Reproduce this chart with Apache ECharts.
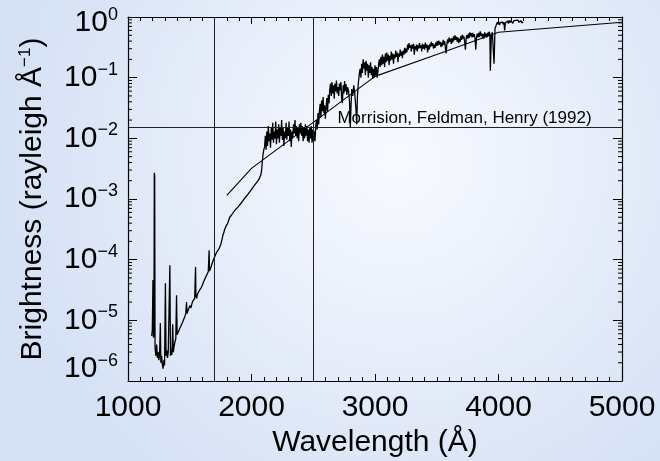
<!DOCTYPE html>
<html>
<head>
<meta charset="utf-8">
<script src="https://cdn.jsdelivr.net/npm/echarts@6/dist/echarts.min.js"></script>
<style>
  html, body { margin: 0; padding: 0; }
  #chart { width: 660px; height: 461px; }
</style>
</head>
<body>
<div id="chart"></div>
<script>
// observed spectrum (wavelength in Angstrom, brightness in rayleigh/A)
const specWave = [
  1192, 1197, 1202, 1206, 1210, 1213, 1216, 1219, 1226, 1232, 1238, 1244, 1250, 1256, 1262, 1266,
  1272, 1278, 1284, 1290, 1296, 1303, 1308, 1314, 1320, 1326, 1333, 1339, 1344, 1350, 1356, 1362,
  1367, 1373, 1380, 1387, 1393, 1398, 1404, 1412, 1420, 1428, 1436, 1444, 1452, 1460, 1468, 1474,
  1478, 1486, 1494, 1502, 1510, 1518, 1526, 1534, 1540, 1547, 1550, 1556, 1562, 1570, 1578, 1586,
  1594, 1602, 1610, 1618, 1626, 1634, 1642, 1650, 1657, 1660, 1666, 1672, 1680, 1688, 1696, 1704,
  1712, 1720, 1728, 1736, 1744, 1752, 1760, 1768, 1776, 1784, 1792, 1800, 1808, 1816, 1824, 1832,
  1840, 1848, 1856, 1862, 1870, 1878, 1886, 1894, 1900, 1908, 1916, 1924, 1932, 1940, 1948, 1956,
  1964, 1972, 1980, 1988, 1996, 2004, 2012, 2020, 2028, 2036, 2044, 2052, 2060, 2068, 2076, 2082,
  2088, 2094, 2100, 2106, 2112, 2118, 2124, 2130, 2136, 2142, 2148, 2154, 2160, 2166, 2172, 2178,
  2184, 2190, 2196, 2202, 2208, 2214, 2220, 2226, 2232, 2238, 2244, 2250, 2256, 2262, 2268, 2274,
  2280, 2286, 2292, 2298, 2304, 2310, 2316, 2322, 2328, 2334, 2340, 2346, 2352, 2358, 2364, 2370,
  2376, 2382, 2388, 2394, 2400, 2406, 2412, 2418, 2424, 2430, 2436, 2442, 2448, 2454, 2460, 2466,
  2472, 2478, 2484, 2490, 2496, 2502, 2508, 2514, 2520, 2526, 2532, 2538, 2544, 2550, 2556, 2562,
  2568, 2574, 2580, 2586, 2592, 2598, 2604, 2610, 2616, 2622, 2628, 2634, 2640, 2646, 2652, 2658,
  2664, 2670, 2676, 2682, 2688, 2694, 2700, 2706, 2712, 2718, 2724, 2730, 2736, 2742, 2748, 2754,
  2760, 2766, 2772, 2778, 2786, 2794, 2800, 2806, 2812, 2820, 2828, 2836, 2846, 2852, 2858, 2866,
  2874, 2880, 2886, 2892, 2898, 2904, 2910, 2916, 2922, 2928, 2934, 2940, 2946, 2952, 2958, 2964,
  2970, 2976, 2982, 2988, 2994, 3000, 3006, 3012, 3018, 3024, 3030, 3036, 3042, 3048, 3054, 3060,
  3066, 3072, 3078, 3084, 3090, 3096, 3102, 3108, 3114, 3120, 3126, 3132, 3138, 3144, 3150, 3156,
  3162, 3168, 3174, 3180, 3186, 3192, 3198, 3204, 3210, 3216, 3222, 3228, 3234, 3240, 3246, 3252,
  3258, 3264, 3270, 3276, 3282, 3288, 3294, 3300, 3306, 3312, 3318, 3324, 3330, 3336, 3342, 3348,
  3354, 3360, 3366, 3372, 3378, 3384, 3390, 3396, 3402, 3408, 3414, 3420, 3426, 3432, 3438, 3444,
  3450, 3456, 3462, 3468, 3474, 3480, 3486, 3492, 3498, 3504, 3510, 3516, 3522, 3528, 3534, 3540,
  3546, 3552, 3558, 3564, 3570, 3576, 3582, 3588, 3594, 3600, 3606, 3612, 3618, 3624, 3630, 3636,
  3642, 3648, 3654, 3660, 3666, 3672, 3678, 3684, 3690, 3696, 3702, 3708, 3714, 3720, 3726, 3732,
  3738, 3744, 3750, 3756, 3762, 3768, 3774, 3780, 3786, 3792, 3798, 3804, 3810, 3816, 3822, 3828,
  3834, 3840, 3846, 3852, 3858, 3864, 3870, 3876, 3882, 3888, 3894, 3900, 3906, 3912, 3918, 3924,
  3930, 3934, 3938, 3942, 3950, 3958, 3964, 3968, 3972, 3978, 3984, 3990, 3996, 4002, 4008, 4014,
  4020, 4026, 4032, 4038, 4044, 4050, 4056, 4062, 4068, 4074, 4080, 4086, 4092, 4098, 4104, 4110,
  4116, 4122, 4128, 4134, 4140, 4146, 4152, 4158, 4164, 4170, 4176, 4182, 4188, 4194, 4200
];
const specBright = [
  5.5e-6, 7.0e-6, 4.6e-5, 5.2e-6, 6.0e-6, 2.7e-3, 2.4e-3, 3.5e-6, 2.6e-6, 4.0e-6, 2.4e-6, 3.0e-6, 2.2e-6, 2.8e-6, 9.0e-6, 2.0e-6,
  2.6e-6, 1.9e-6, 1.6e-6, 2.2e-6, 1.8e-6, 4.1e-5, 2.6e-6, 3.2e-6, 2.4e-6, 3.0e-6, 2.8e-6, 8.1e-5, 2.6e-6, 3.4e-6, 2.7e-6, 8.6e-6,
  3.0e-6, 3.7e-6, 4.4e-6, 5.0e-6, 2.6e-5, 5.8e-6, 6.2e-6, 6.8e-6, 7.4e-6, 8.0e-6, 8.8e-6, 9.5e-6, 1.05e-5, 1.15e-5, 1.3e-5, 2.0e-5,
  1.3e-5, 1.45e-5, 1.6e-5, 1.75e-5, 1.6e-5, 1.9e-5, 2.1e-5, 2.0e-5, 2.3e-5, 7.6e-5, 2.5e-5, 2.3e-5, 2.7e-5, 2.9e-5, 3.1e-5, 3.0e-5,
  3.5e-5, 3.8e-5, 4.2e-5, 4.6e-5, 5.0e-5, 5.4e-5, 5.8e-5, 6.3e-5, 1.43e-4, 6.5e-5, 6.2e-5, 7.5e-5, 8.5e-5, 9.5e-5, 1.05e-4, 1.12e-4,
  1.25e-4, 1.35e-4, 1.45e-4, 1.5e-4, 1.48e-4, 1.8e-4, 2.1e-4, 2.5e-4, 2.8e-4, 3.2e-4, 3.5e-4, 3.3e-4, 4.0e-4, 4.5e-4, 5.0e-4, 4.8e-4,
  5.5e-4, 5.8e-4, 5.4e-4, 6.4e-4, 6.0e-4, 6.9e-4, 7.2e-4, 6.8e-4, 7.8e-4, 8.3e-4, 7.6e-4, 9.0e-4, 9.4e-4, 8.6e-4, 1.05e-3, 1.1e-3,
  1.02e-3, 1.2e-3, 1.28e-3, 1.22e-3, 1.4e-3, 1.5e-3, 1.45e-3, 1.65e-3, 1.75e-3, 1.7e-3, 1.9e-3, 2.0e-3, 2.1e-3, 2.3e-3, 2.5e-3, 3.0e-3,
  4.2e-3, 5.6e-3, 6.5e-3, 7.2e-3, 1.1e-2, 6.5e-3, 1.3e-2, 7.5e-3, 1.6e-2, 9.0e-3, 1.2e-2, 7.0e-3, 1.5e-2, 9.5e-3, 1.8e-2, 8.5e-3,
  1.3e-2, 1.0e-2, 1.9e-2, 8.0e-3, 1.4e-2, 1.0e-2, 1.7e-2, 8.5e-3, 1.5e-2, 1.1e-2, 2.0e-2, 9.5e-3, 1.5e-2, 7.5e-3, 1.3e-2, 1.0e-2,
  1.8e-2, 9.5e-3, 1.5e-2, 1.1e-2, 1.9e-2, 9.0e-3, 1.4e-2, 7.2e-3, 1.3e-2, 1.0e-2, 1.7e-2, 1.2e-2, 2.0e-2, 1.1e-2, 1.6e-2, 1.0e-2,
  1.5e-2, 9.0e-3, 1.7e-2, 1.2e-2, 1.8e-2, 1.1e-2, 1.6e-2, 9.0e-3, 1.5e-2, 1.0e-2, 1.7e-2, 1.1e-2, 1.6e-2, 9.0e-3, 1.4e-2, 8.5e-3,
  1.5e-2, 1.0e-2, 1.6e-2, 8.5e-3, 1.4e-2, 9.0e-3, 1.3e-2, 9.0e-3, 1.6e-2, 2.0e-2, 1.4e-2, 2.6e-2, 1.7e-2, 2.8e-2, 3.7e-2, 2.2e-2,
  4.2e-2, 2.8e-2, 4.8e-2, 2.6e-2, 3.5e-2, 2.1e-2, 3.2e-2, 4.6e-2, 2.8e-2, 5.2e-2, 3.8e-2, 6.5e-2, 8.0e-2, 5.0e-2, 8.5e-2, 5.5e-2,
  7.5e-2, 4.5e-2, 8.0e-2, 6.0e-2, 9.0e-2, 5.5e-2, 7.0e-2, 5.0e-2, 8.0e-2, 6.2e-2, 8.5e-2, 4.5e-2, 3.8e-2, 7.5e-2, 5.5e-2, 8.8e-2,
  6.0e-2, 7.8e-2, 5.2e-2, 7.0e-2, 6.0e-2, 4.0e-2, 1.5e-2, 3.5e-2, 6.5e-2, 5.0e-2, 7.5e-2, 5.5e-2, 3.0e-2, 1.7e-2, 5.0e-2, 8.5e-2,
  1.2e-1, 1.4e-1, 1.0e-1, 1.7e-1, 1.2e-1, 2.0e-1, 1.4e-1, 1.8e-1, 1.1e-1, 1.9e-1, 1.3e-1, 1.7e-1, 1.0e-1, 1.6e-1, 1.2e-1, 1.8e-1,
  1.1e-1, 1.5e-1, 9.5e-2, 1.4e-1, 1.0e-1, 1.6e-1, 1.1e-1, 1.5e-1, 1.0e-1, 1.3e-1, 1.7e-1, 2.0e-1, 1.5e-1, 2.2e-1, 1.6e-1, 2.4e-1,
  1.7e-1, 2.2e-1, 1.5e-1, 2.5e-1, 1.8e-1, 2.6e-1, 1.9e-1, 2.4e-1, 1.6e-1, 2.3e-1, 1.9e-1, 2.7e-1, 2.0e-1, 2.5e-1, 1.7e-1, 2.4e-1,
  2.1e-1, 2.8e-1, 2.2e-1, 2.6e-1, 1.8e-1, 2.5e-1, 2.2e-1, 2.9e-1, 2.3e-1, 2.7e-1, 2.1e-1, 2.8e-1, 2.4e-1, 3.1e-1, 2.5e-1, 3.0e-1,
  2.6e-1, 3.5e-1, 2.9e-1, 3.7e-1, 3.1e-1, 3.4e-1, 2.7e-1, 3.5e-1, 3.0e-1, 3.6e-1, 2.4e-1, 3.3e-1, 2.9e-1, 3.5e-1, 2.7e-1, 3.4e-1,
  3.0e-1, 3.7e-1, 3.1e-1, 3.4e-1, 2.7e-1, 3.6e-1, 3.0e-1, 3.5e-1, 2.9e-1, 3.8e-1, 3.1e-1, 3.5e-1, 2.6e-1, 3.4e-1, 2.9e-1, 3.6e-1,
  3.2e-1, 3.9e-1, 3.3e-1, 3.7e-1, 3.0e-1, 3.5e-1, 3.1e-1, 3.8e-1, 3.3e-1, 4.0e-1, 3.4e-1, 4.1e-1, 3.5e-1, 3.9e-1, 3.2e-1, 3.8e-1,
  3.3e-1, 4.2e-1, 3.5e-1, 4.0e-1, 3.1e-1, 2.5e-1, 3.6e-1, 4.3e-1, 3.7e-1, 4.6e-1, 3.9e-1, 4.4e-1, 3.6e-1, 4.5e-1, 3.8e-1, 4.8e-1,
  4.1e-1, 5.0e-1, 4.2e-1, 4.7e-1, 3.9e-1, 4.6e-1, 3.7e-1, 4.4e-1, 3.9e-1, 4.9e-1, 4.2e-1, 5.1e-1, 4.4e-1, 4.8e-1, 3.9e-1, 2.9e-1,
  4.4e-1, 5.0e-1, 4.4e-1, 5.3e-1, 4.5e-1, 5.6e-1, 4.8e-1, 5.4e-1, 4.6e-1, 5.5e-1, 4.7e-1, 5.2e-1, 4.4e-1, 2.9e-1, 4.6e-1, 5.3e-1,
  4.6e-1, 5.5e-1, 4.7e-1, 5.8e-1, 4.9e-1, 5.4e-1, 4.5e-1, 5.2e-1, 4.4e-1, 5.6e-1, 4.8e-1, 5.3e-1, 4.6e-1, 5.5e-1, 4.9e-1, 5.7e-1,
  5.2e-1, 1.3e-1, 1.4e-1, 5.0e-1, 5.6e-1, 6.0e-1, 1.7e-1, 1.8e-1, 6.5e-1, 7.0e-1, 7.5e-1, 8.2e-1, 7.6e-1, 8.4e-1, 7.4e-1, 8.0e-1,
  8.6e-1, 7.5e-1, 8.3e-1, 7.6e-1, 8.2e-1, 6.0e-1, 8.0e-1, 8.5e-1, 7.7e-1, 8.6e-1, 7.8e-1, 8.8e-1, 8.0e-1, 8.7e-1, 8.1e-1, 8.9e-1,
  7.9e-1, 8.6e-1, 9.0e-1, 8.2e-1, 8.8e-1, 9.1e-1, 8.3e-1, 8.9e-1, 8.2e-1, 8.8e-1, 8.1e-1, 8.7e-1, 8.0e-1, 8.5e-1, 8.3e-1
];

// model curve, Morrision, Feldman, Henry (1992)
const modelWave = [1800, 2000, 3000, 3500, 4000, 5000];
const modelBright = [1.15e-3, 3.2e-3, 0.105, 0.24, 0.56, 0.82];

// reference lines
const markWaves = [1700, 2500];
const markBright = 0.015;
const noteWave = 2700;
const noteText = 'Morrision, Feldman, Henry (1992)';

// log-axis minor tick positions (2..9 in each decade)
const minorMantissa = [2, 3, 4, 5, 6, 7, 8, 9];
const minorDecades = [-6, -5, -4, -3, -2, -1];

const FONT = "'Liberation Sans', Helvetica, Arial, sans-serif";

const chart = echarts.init(document.getElementById('chart'));

// end labels sit a bit inside the axis range, like the original plot
function pow10Label(value) {
  const e = Math.round(Math.log10(value));
  const sup = e === 0 ? '0' : '\u2212' + (-e);
  let suffix = '';
  if (e === 0) suffix = 'T';
  if (e === -6) suffix = 'B';
  return '{b' + suffix + '|10}{s' + suffix + '|' + sup + '}';
}

const minorTickValues = [];
minorDecades.forEach((d) => {
  minorMantissa.forEach((m) => minorTickValues.push(m * Math.pow(10, d)));
});

const axisLineStyle = { color: '#000', width: 1.2 };
const baseStyle = { fontFamily: FONT, fontSize: 30, color: '#000' };
const supStyle = { fontFamily: FONT, fontSize: 18, color: '#000' };

const option = {
  backgroundColor: new echarts.graphic.RadialGradient(0.6, 0.35, 0.85, [
    { offset: 0, color: '#f8faff' },
    { offset: 1, color: '#d6e1f5' },
  ]),
  animation: false,
  grid: {
    left: 128,
    right: 38,
    top: 17,
    bottom: 80,
    outerBoundsMode: 'none',
  },
  xAxis: [
    {
      type: 'value',
      min: 1000,
      max: 5000,
      interval: 1000,
      name: 'Wavelength (Å)',
      nameLocation: 'middle',
      nameGap: 38,
      nameTextStyle: { fontFamily: FONT, fontSize: 30, color: '#000' },
      axisLine: { show: true, onZero: false, lineStyle: axisLineStyle },
      axisTick: { inside: true, length: 7, lineStyle: { color: '#000' } },
      minorTick: { show: true, splitNumber: 10, length: 4, lineStyle: { color: '#000' } },
      axisLabel: {
        fontFamily: FONT, fontSize: 30, color: '#000', margin: 12,
        formatter: (v) => String(v),
      },
      splitLine: { show: false },
    },
    {
      type: 'value',
      position: 'top',
      min: 1000,
      max: 5000,
      interval: 1000,
      axisLine: { show: true, onZero: false, lineStyle: axisLineStyle },
      axisTick: { inside: true, length: 7, lineStyle: { color: '#000' } },
      minorTick: { show: true, splitNumber: 10, length: 4, lineStyle: { color: '#000' } },
      axisLabel: { show: false },
      splitLine: { show: false },
    },
  ],
  yAxis: [
    {
      type: 'log',
      logBase: 10,
      min: 1e-6,
      max: 1,
      name: 'Brightness (rayleigh Å{s|\u22121})',
      nameLocation: 'middle',
      nameGap: 80,
      nameTextStyle: {
        fontFamily: FONT, fontSize: 30, color: '#000',
        rich: { s: { fontFamily: FONT, fontSize: 17, color: '#000', verticalAlign: 'top', padding: [0, 0, 14, 0] } },
      },
      axisLine: { show: true, onZero: false, lineStyle: axisLineStyle },
      axisTick: { inside: true, length: 9, lineStyle: { color: '#000' } },
      axisLabel: {
        margin: 10,
        formatter: pow10Label,
        rich: {
          b: baseStyle,
          s: { ...supStyle, padding: [0, 0, 16, 0] },
          bT: { ...baseStyle, padding: [12, 0, 0, 0] },
          sT: { ...supStyle, padding: [12, 0, 16, 0] },
          bB: { ...baseStyle, padding: [0, 0, 24, 0] },
          sB: { ...supStyle, padding: [0, 0, 40, 0] },
        },
      },
      splitLine: { show: false },
    },
    {
      type: 'log',
      logBase: 10,
      min: 1e-6,
      max: 1,
      position: 'right',
      axisLine: { show: true, onZero: false, lineStyle: axisLineStyle },
      axisTick: { inside: true, length: 9, lineStyle: { color: '#000' } },
      axisLabel: { show: false },
      splitLine: { show: false },
    },
  ],
  series: [
    {
      name: 'spectrum',
      type: 'line',
      data: specWave.map((w, i) => [w, specBright[i]]),
      showSymbol: false,
      symbol: 'none',
      lineStyle: { color: '#000', width: 1.3 },
      z: 3,
      markLine: {
        silent: true,
        symbol: 'none',
        label: { show: false },
        lineStyle: { color: '#222', width: 1, type: 'solid' },
        data: [
          { xAxis: markWaves[0] },
          { xAxis: markWaves[1] },
          [{ coord: [1000, markBright] }, { coord: [5000, markBright] }],
        ],
      },
      markPoint: {
        silent: true,
        symbol: 'rect',
        symbolSize: 1,
        itemStyle: { color: 'rgba(0,0,0,0)' },
        label: {
          show: true,
          position: [0, 0],
          align: 'left',
          verticalAlign: 'bottom',
          fontFamily: FONT,
          fontSize: 17,
          color: '#000',
          formatter: noteText,
        },
        data: [{ coord: [noteWave, markBright] }],
      },
    },
    {
      name: 'model',
      type: 'line',
      data: modelWave.map((w, i) => [w, modelBright[i]]),
      showSymbol: false,
      symbol: 'none',
      lineStyle: { color: '#000', width: 1.1 },
      z: 2,
    },
    {
      // minor ticks of the log axes, placed through the y scale
      name: 'minorTicks',
      type: 'custom',
      silent: true,
      clip: false,
      data: minorTickValues.map((v) => [1000, v]),
      renderItem: (params, api) => {
        const v = api.value(1);
        const l = api.coord([1000, v]);
        const r = api.coord([5000, v]);
        const st = { stroke: '#000', lineWidth: 1 };
        return {
          type: 'group',
          children: [
            { type: 'line', shape: { x1: l[0], y1: l[1], x2: l[0] + 4, y2: l[1] }, style: st },
            { type: 'line', shape: { x1: r[0] - 4, y1: r[1], x2: r[0], y2: r[1] }, style: st },
          ],
        };
      },
      z: 4,
    },
  ],
};

chart.setOption(option);
</script>
</body>
</html>
